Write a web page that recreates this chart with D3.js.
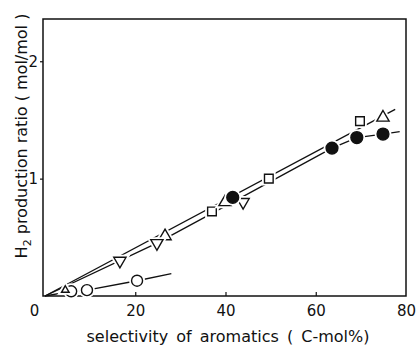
<!DOCTYPE html>
<html>
<head>
<meta charset="utf-8">
<script src="https://cdn.jsdelivr.net/npm/d3@7"></script>
<style>
  body { margin: 0; background: #fff; }
  text { font-family: "DejaVu Sans", sans-serif; fill: #111; }
</style>
</head>
<body>
<script>
const width = 419;
const height = 347;

// [selectivity C-mol%, H2 ratio mol/mol]
const openCircles = [[5.8, 0.04], [9.3, 0.05], [20.4, 0.13]];
const openTriangles = [[4.5, 0.05], [26.6, 0.51], [39.9, 0.80], [74.9, 1.52]];
const invTriangles = [[16.6, 0.30], [24.8, 0.45], [43.9, 0.80]];
const openSquares = [[37.0, 0.72], [49.6, 1.00], [69.8, 1.49]];
const filledCircles = [[41.6, 0.84], [63.6, 1.26], [69.1, 1.35], [74.9, 1.38]];

// drawn trend lines
const upperLine = [[0, 0], [77.6, 1.59]];
const lowerLine = [[0, 0], [24.8, 0.45], [41.6, 0.80], [63.6, 1.26], [69.1, 1.35], [74.9, 1.38], [78.6, 1.40]];
const circleLine = [[0, 0], [5.8, 0.04], [9.3, 0.05], [20.4, 0.13], [28, 0.19]];

const xTicks = [0, 20, 40, 60, 80];
const yTicks = [1, 2];

const svg = d3.select("body")
              .append("svg")
              .attr("width", width)
              .attr("height", height);

const x = d3.scaleLinear().domain([0, 80]).range([45, 406]);
const y = d3.scaleLinear().domain([0, 2.36]).range([296, 19]);

// frame
svg.append("rect")
   .attr("x", 43).attr("y", 19)
   .attr("width", 406 - 43).attr("height", 296 - 19)
   .attr("fill", "none").attr("stroke", "#111").attr("stroke-width", 1.5);

const xAxis = svg.append("g")
   .attr("transform", "translate(0,296)")
   .call(d3.axisBottom(x).tickValues(xTicks).tickFormat(d3.format("d")).tickSize(-4).tickPadding(9));
xAxis.select(".domain").remove();
xAxis.selectAll("text").style("font-size", "15px").style("font-family", "DejaVu Sans, sans-serif");
xAxis.selectAll("line").attr("stroke", "#111").attr("stroke-width", 1.2);
xAxis.selectAll(".tick").filter(d => d === 0 || d === 80).select("line").remove();
xAxis.selectAll(".tick").filter(d => d === 0).select("text").attr("dx", -11);

const yAxis = svg.append("g")
   .attr("transform", "translate(43,0)")
   .call(d3.axisLeft(y).tickValues(yTicks).tickFormat(d3.format("d")).tickSize(3).tickPadding(2));
yAxis.select(".domain").remove();
yAxis.selectAll("text").style("font-size", "15px").style("font-family", "DejaVu Sans, sans-serif");
yAxis.selectAll("line").attr("stroke", "#111").attr("stroke-width", 1.2);

// labels
svg.append("text")
   .attr("x", 228).attr("y", 342)
   .attr("text-anchor", "middle")
   .style("font-size", "16px")
   .style("word-spacing", "3px")
   .text("selectivity of aromatics ( C-mol%)");

const yl = svg.append("text")
   .attr("transform", "translate(27,136) rotate(-90)")
   .attr("text-anchor", "middle")
   .style("font-size", "16px");
yl.append("tspan").text("H");
yl.append("tspan").attr("dy", 4).style("font-size", "11px").text("2");
yl.append("tspan").attr("dy", -4).text(" production ratio ( mol/mol )");

// lines
const line = d3.line().x(d => x(d[0])).y(d => y(d[1]));
[upperLine, lowerLine, circleLine].forEach(pts => {
  svg.append("path")
     .attr("d", line(pts))
     .attr("fill", "none")
     .attr("stroke", "#111")
     .attr("stroke-width", 1.3);
});

// markers: white halo first, then the symbol
function drawMarks(data, type, size, filled, rot) {
  const sym = d3.symbol().type(type).size(size);
  [["#fff", 5], ["#111", 1.4]].forEach(([col, sw]) => {
    svg.selectAll(null)
       .data(data)
       .enter()
       .append("path")
       .attr("d", sym)
       .attr("transform", d => "translate(" + x(d[0]) + "," + y(d[1]) + ")" + (rot ? " rotate(180)" : ""))
       .attr("fill", filled ? "#111" : "#fff")
       .attr("stroke", col)
       .attr("stroke-width", sw);
  });
}

drawMarks(openCircles, d3.symbolCircle, 95, false);
drawMarks(openSquares, d3.symbolSquare, 75, false);
drawMarks(openTriangles.slice(0, 1), d3.symbolTriangle, 25, false);
drawMarks(openTriangles.slice(1), d3.symbolTriangle, 65, false);
drawMarks(invTriangles, d3.symbolTriangle, 65, false, true);
drawMarks(filledCircles, d3.symbolCircle, 110, true);
</script>
</body>
</html>
